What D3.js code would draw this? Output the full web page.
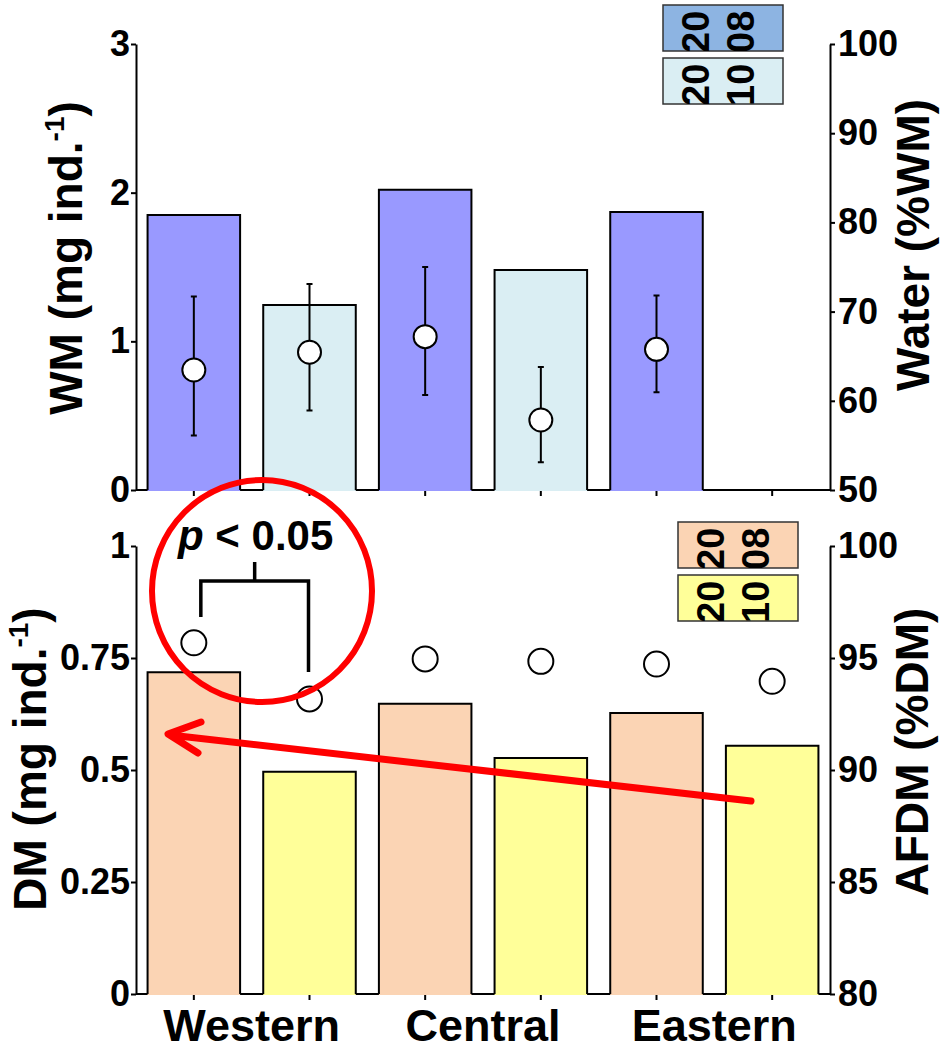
<!DOCTYPE html>
<html lang="en">
<head>
<meta charset="utf-8">
<title>WM / DM by region</title>
<script src="https://cdn.jsdelivr.net/npm/d3@7"></script>
<style>
  body { margin: 0; background: #fff; }
  svg text { font-family: "Liberation Sans", Arial, sans-serif; font-weight: bold; fill: #000; }
</style>
</head>
<body>
<div id="chart"></div>
<script>
// data, order: Western 2008, Western 2010, Central 2008, Central 2010, Eastern 2008, Eastern 2010
var groups = ["Western", "Central", "Eastern"];
var years = ["2008", "2010"];
var wm = [1.85, 1.245, 2.02, 1.48, 1.87, null];
var water = [63.45, 65.44, 67.19, 57.85, 65.77, null];
var waterLo = [56.1, 58.9, 60.65, 53.1, 60.95, null];
var waterHi = [71.7, 73.1, 75.0, 63.8, 71.8, null];
var dm = [0.718, 0.496, 0.648, 0.527, 0.627, 0.554];
var afdm = [95.68, 93.17, 94.96, 94.85, 94.73, 93.96];
var wmTicks = [0, 1, 2, 3];
var waterTicks = [50, 60, 70, 80, 90, 100];
var dmTicks = [0, 0.25, 0.5, 0.75, 1];
var afdmTicks = [80, 85, 90, 95, 100];

var topFill = ["#9999ff", "#daeef3"], topLegendFill = ["#8db4e2", "#daeef3"];
var botFill = ["#fbd4b4", "#ffff99"];

var svg = d3.select("#chart").append("svg").attr("width", 942).attr("height", 1052);

var x = d3.scaleBand().domain(d3.range(6)).range([136, 830]).paddingInner(0.2).paddingOuter(0.1);
var bw = x.bandwidth();
var cx = function (i) { return x(i) + bw / 2; };

var yWM = d3.scaleLinear().domain([0, 3]).range([490, 44]);
var yWater = d3.scaleLinear().domain([50, 100]).range([490, 44]);
var yDM = d3.scaleLinear().domain([0, 1]).range([994, 546]);
var yAF = d3.scaleLinear().domain([80, 100]).range([994, 546]);

function panel(yL, yR, ticksL, ticksR, fmtL, vals, fills) {
  var g = svg.append("g");
  var y0 = yL.range()[0];

  // baseline
  g.append("line").attr("x1", 136).attr("x2", 830).attr("y1", y0).attr("y2", y0)
    .attr("stroke", "#000").attr("stroke-width", 2);

  // x ticks
  g.selectAll(".xt").data(d3.range(6)).enter().append("line")
    .attr("x1", cx).attr("x2", cx).attr("y1", y0).attr("y2", y0 + 6)
    .attr("stroke", "#000").attr("stroke-width", 2);

  var data = vals.map(function (v, i) { return { v: v, i: i }; }).filter(function (d) { return d.v != null; });
  g.selectAll(".bar").data(data).enter().append("rect")
    .attr("x", function (d) { return x(d.i); })
    .attr("y", function (d) { return yL(d.v); })
    .attr("width", bw)
    .attr("height", function (d) { return y0 - yL(d.v) + 1; })
    .attr("fill", function (d) { return fills[d.i % 2]; });
  g.selectAll(".outline").data(data).enter().append("path")
    .attr("d", function (d) {
      var l = x(d.i), r = l + bw, t = yL(d.v);
      return "M" + l + "," + y0 + "V" + t + "H" + r + "V" + y0;
    })
    .attr("fill", "none").attr("stroke", "#000").attr("stroke-width", 2);

  var axL = d3.axisLeft(yL).tickValues(ticksL).tickFormat(fmtL).tickSize(5).tickPadding(1).tickSizeOuter(0);
  var gl = g.append("g").attr("transform", "translate(136,0)").call(axL);
  var axR = d3.axisRight(yR).tickValues(ticksR).tickFormat(d3.format("d")).tickSize(5).tickPadding(3).tickSizeOuter(0);
  var gr = g.append("g").attr("transform", "translate(830,0)").call(axR);
  [gl, gr].forEach(function (a) {
    a.select(".domain").attr("stroke-width", 2);
    a.selectAll(".tick line").attr("stroke-width", 2);
    a.selectAll("text").style("font-size", "36px").style("font-weight", "bold")
      .style("font-family", "'Liberation Sans', Arial, sans-serif");
  });
  return g;
}

var gTop = panel(yWM, yWater, wmTicks, waterTicks, d3.format("d"), wm, topFill);
var gBot = panel(yDM, yAF, dmTicks, afdmTicks, function (d) { return d === 0 || d === 1 ? d3.format("d")(d) : String(d); }, dm, botFill);

// water points with error bars
var wData = water.map(function (v, i) { return { v: v, lo: waterLo[i], hi: waterHi[i], i: i }; })
  .filter(function (d) { return d.v != null; });
gTop.selectAll(".err").data(wData).enter().append("path")
  .attr("d", function (d) {
    var c = cx(d.i), a = yWater(d.hi), b = yWater(d.lo);
    return "M" + c + "," + a + "V" + b + "M" + (c - 3) + "," + a + "H" + (c + 3) + "M" + (c - 3) + "," + b + "H" + (c + 3);
  })
  .attr("stroke", "#000").attr("stroke-width", 2).attr("fill", "none");
gTop.selectAll(".pt").data(wData).enter().append("circle")
  .attr("cx", function (d) { return cx(d.i); })
  .attr("cy", function (d) { return yWater(d.v); })
  .attr("r", 11.5).attr("fill", "#fff").attr("stroke", "#000").attr("stroke-width", 2);

// AFDM points
gBot.selectAll(".pt").data(afdm).enter().append("circle")
  .attr("cx", function (d, i) { return cx(i); })
  .attr("cy", function (d) { return yAF(d); })
  .attr("r", 12.5).attr("fill", "#fff").attr("stroke", "#000").attr("stroke-width", 2);

// group labels
svg.selectAll(".grp").data(groups).enter().append("text")
  .attr("x", function (d, i) { return (cx(2 * i) + cx(2 * i + 1)) / 2; })
  .attr("y", 1041).attr("text-anchor", "middle").style("font-size", "45px")
  .text(function (d) { return d; });

// axis titles
function title(tx, ty, main, sup, tail) {
  var t = svg.append("text").attr("transform", "translate(" + tx + "," + ty + ") rotate(-90)")
    .attr("text-anchor", "middle").style("font-size", "46px");
  t.append("tspan").text(main);
  if (sup) {
    t.append("tspan").attr("dy", -18).style("font-size", "28px").text(sup);
    t.append("tspan").attr("dy", 18).text(tail);
  }
}
title(82, 258, "WM (mg ind.", "-1", ")");
title(46, 759, "DM (mg ind.", "-1", ")");
title(929, 245, "Water (%WM)");
title(928, 752, "AFDM (%DM)");

// legends
var defs = svg.append("defs");
function legend(bx, by, fills, id) {
  years.forEach(function (yr, k) {
    var top = by + k * 53, h = 46, w = 120;
    defs.append("clipPath").attr("id", id + k).append("rect")
      .attr("x", bx).attr("y", top).attr("width", w).attr("height", h);
    svg.append("rect").attr("x", bx).attr("y", top).attr("width", w).attr("height", h)
      .attr("fill", fills[k]).attr("stroke", "#333").attr("stroke-width", 1.5);
    var gt = svg.append("g").attr("clip-path", "url(#" + id + k + ")");
    [yr.slice(0, 2), yr.slice(2)].forEach(function (part, j) {
      gt.append("text")
        .attr("transform", "translate(" + (bx + 46 + j * 45) + "," + (top + h + 2) + ") rotate(-90)")
        .style("font-size", "38px").text(part);
    });
  });
}
legend(663, 5, topLegendFill, "lt");
legend(678, 522, botFill, "lb");

// significance bracket
var bl = cx(0) + 7, br = cx(1) - 1, bm = (bl + br) / 2;
svg.append("path")
  .attr("d", "M" + bl + "," + yAF(96.83) + "V" + yAF(98.44) + "H" + br + "V" + yAF(94.37) +
    "M" + bm + "," + yAF(98.44) + "V" + yAF(99.29))
  .attr("fill", "none").attr("stroke", "#000").attr("stroke-width", 3.5);
var pt = svg.append("text").attr("x", bm + 1).attr("y", yAF(99.8)).attr("text-anchor", "middle")
  .style("font-size", "42px");
pt.append("tspan").style("font-style", "italic").text("p");
pt.append("tspan").text(" < 0.05");

// red highlight
svg.append("ellipse").attr("cx", 262).attr("cy", 591).attr("rx", 110).attr("ry", 111)
  .attr("fill", "none").attr("stroke", "#ff0000").attr("stroke-width", 6);
svg.append("path").attr("d", "M751,801L170,735M201,722L168,734L198,753")
  .attr("fill", "none").attr("stroke", "#ff0000").attr("stroke-width", 7)
  .attr("stroke-linecap", "round").attr("stroke-linejoin", "round");
</script>
</body>
</html>
